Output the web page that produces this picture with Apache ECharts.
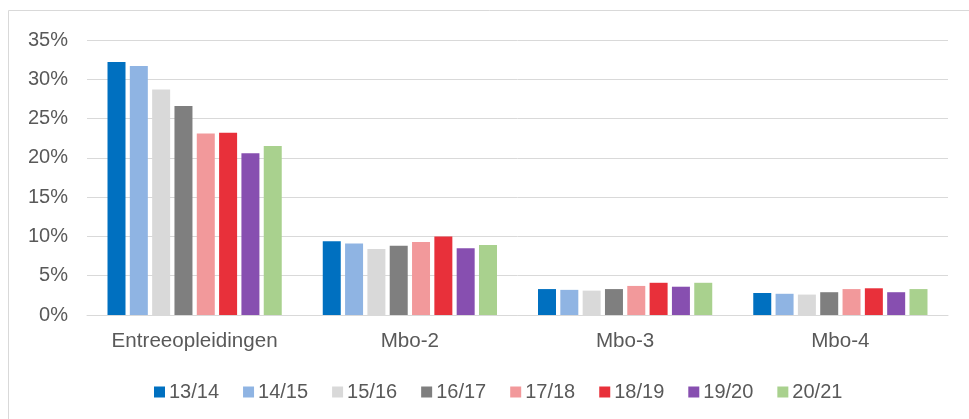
<!DOCTYPE html>
<html>
<head>
<meta charset="utf-8">
<script src="https://cdn.jsdelivr.net/npm/echarts@6/dist/echarts.min.js"></script>
<style>
  html, body { margin: 0; padding: 0; background: #fff; }
  #chart { width: 969px; height: 419px; }
</style>
</head>
<body>
<div id="chart"></div>
<script>
// categories and school years
var categories = ['Entreeopleidingen', 'Mbo-2', 'Mbo-3', 'Mbo-4'];
var years = ['13/14', '14/15', '15/16', '16/17', '17/18', '18/19', '19/20', '20/21'];
var colors = ['#0070C0', '#8FB4E3', '#D9D9D9', '#7F7F7F', '#F2999B', '#E8303A', '#874FB0', '#A9D18E'];

// percentages per year, in category order
var v1314 = [32.2, 9.4, 3.3, 2.8];
var v1415 = [31.7, 9.1, 3.2, 2.7];
var v1516 = [28.7, 8.4, 3.1, 2.6];
var v1617 = [26.6, 8.8, 3.3, 2.9];
var v1718 = [23.1, 9.3, 3.7, 3.3];
var v1819 = [23.2, 10.0, 4.1, 3.4];
var v1920 = [20.6, 8.5, 3.6, 2.9];
var v2021 = [21.5, 8.9, 4.1, 3.3];
var values = [v1314, v1415, v1516, v1617, v1718, v1819, v1920, v2021];

var font = '"Liberation Sans", Arial, sans-serif';
var textColor = '#595959';

var series = [];
for (var i = 0; i < years.length; i++) {
    series.push({
        name: years[i],
        type: 'bar',
        data: values[i],
        barWidth: 18,
        barGap: '24%',
        itemStyle: { color: colors[i] }
    });
}

var chart = echarts.init(document.getElementById('chart'));
chart.setOption({
    animation: false,
    color: colors,
    graphic: [{
        type: 'rect',
        shape: { x: 8.5, y: 10.5, width: 1200, height: 800 },
        style: { fill: 'none', stroke: '#D9D9D9', lineWidth: 1 },
        silent: true
    }],
    grid: { left: 87, right: 21, top: 40, bottom: 104 },
    legend: {
        data: years,
        left: 149,
        top: 377,
        icon: 'rect',
        itemWidth: 11,
        itemHeight: 11,
        itemGap: 24,
        textStyle: { fontFamily: font, fontSize: 20, color: textColor, padding: [0, 0, 0, -1] }
    },
    xAxis: {
        type: 'category',
        data: categories,
        axisTick: { show: false },
        axisLine: { lineStyle: { color: '#D9D9D9', width: 1 } },
        axisLabel: { fontFamily: font, fontSize: 20.6, color: textColor, margin: 16, interval: 0 }
    },
    yAxis: {
        type: 'value',
        min: 0,
        max: 35,
        interval: 5,
        axisLine: { show: false },
        axisTick: { show: false },
        splitLine: { lineStyle: { color: '#D9D9D9', width: 1 } },
        axisLabel: {
            fontFamily: font, fontSize: 20, color: textColor, margin: 19,
            formatter: function (v) { return v + '%'; }
        }
    },
    series: series
});
</script>
</body>
</html>
